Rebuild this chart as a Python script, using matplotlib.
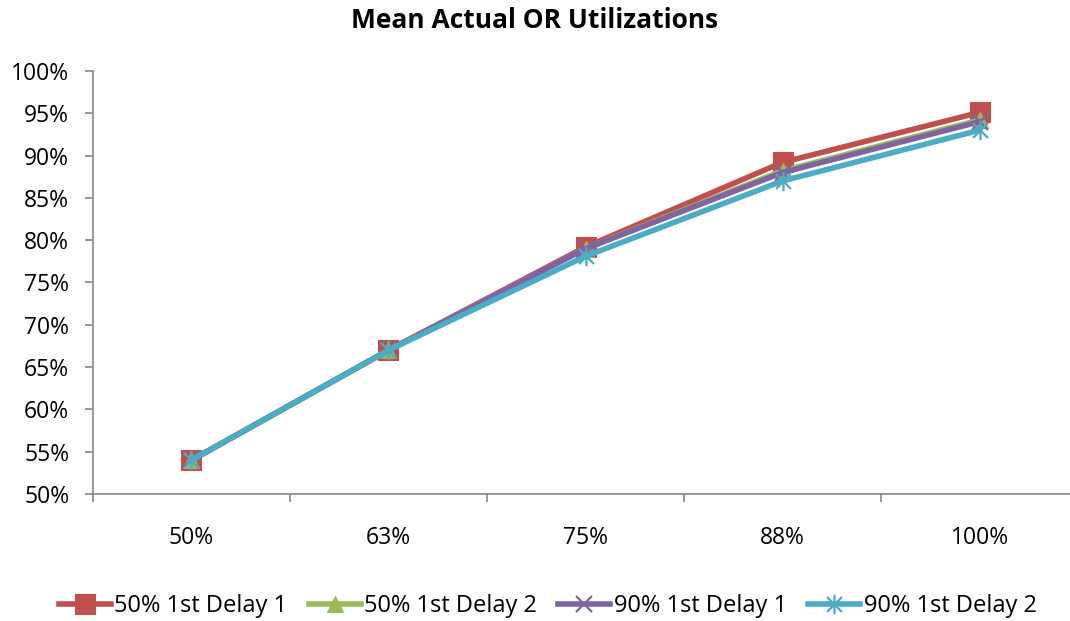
import matplotlib
matplotlib.use("Agg")
import matplotlib.pyplot as plt
from matplotlib.path import Path
from matplotlib.ticker import FixedLocator, FuncFormatter

plt.rcParams["font.family"] = ["Open Sans", "DejaVu Sans"]

categories = ["50%", "63%", "75%", "88%", "100%"]
series_names = ["50% 1st Delay 1", "50% 1st Delay 2", "90% 1st Delay 1", "90% 1st Delay 2"]
delay1_50 = [54.0, 67.0, 79.2, 89.2, 95.1]
delay2_50 = [54.0, 67.0, 79.0, 88.2, 94.2]
delay1_90 = [54.0, 67.0, 79.0, 88.0, 94.0]
delay2_90 = [54.0, 67.0, 78.1, 87.0, 93.0]

colors = ["#C0504D", "#9BBB59", "#8064A2", "#4BACC6"]

# Excel-style star marker: an x with a vertical bar
star = Path(
    [(-1, -1), (1, 1), (-1, 1), (1, -1), (0, -1.3), (0, 1.3)],
    [Path.MOVETO, Path.LINETO, Path.MOVETO, Path.LINETO, Path.MOVETO, Path.LINETO],
)

fig = plt.figure(figsize=(10.7, 6.21), dpi=100)
ax = fig.add_axes([0.0869, 0.2045, 0.9206, 0.6812])

xs = list(range(1, len(categories) + 1))
data = [delay1_50, delay2_50, delay1_90, delay2_90]
markers = ["s", "^", "x", star]
msizes = [14, 12, 12, 14]

for vals, name, c, m, ms in zip(data, series_names, colors, markers, msizes):
    ax.plot(xs, vals, color=c, linewidth=4.0, marker=m, markersize=ms,
            markeredgewidth=1.6 if m in ("x", star) else 0.8,
            markeredgecolor=c, markerfacecolor=c, label=name, zorder=3)

ax.set_xlim(0.5, len(categories) + 0.5)
ax.set_ylim(50, 100)
ax.set_yticks(range(50, 101, 5))
ax.yaxis.set_major_formatter(FuncFormatter(lambda v, p: f"{int(v)}%"))
ax.set_xticks(xs)
ax.set_xticklabels(categories)
ax.xaxis.set_minor_locator(FixedLocator([i + 0.5 for i in range(0, len(categories) + 1)]))

ax.tick_params(axis="x", which="major", length=0, labelsize=16.5, pad=23)
ax.tick_params(axis="x", which="minor", length=6, width=1.2, color="#868686", direction="out")
ax.tick_params(axis="y", length=6, width=1.2, color="#868686", labelsize=16.5, pad=11)

for side in ("top", "right"):
    ax.spines[side].set_visible(False)
for side in ("left", "bottom"):
    ax.spines[side].set_color("#868686")
    ax.spines[side].set_linewidth(1.2)

fig.suptitle("Mean Actual OR Utilizations", fontsize=19, fontweight="bold", y=0.988)

fig.legend(loc="lower center", bbox_to_anchor=(0.512, -0.03), ncol=4, frameon=False,
           fontsize=17, handlelength=2.2, handletextpad=0.15, columnspacing=0.9)

fig.savefig("out.png", dpi=100)
